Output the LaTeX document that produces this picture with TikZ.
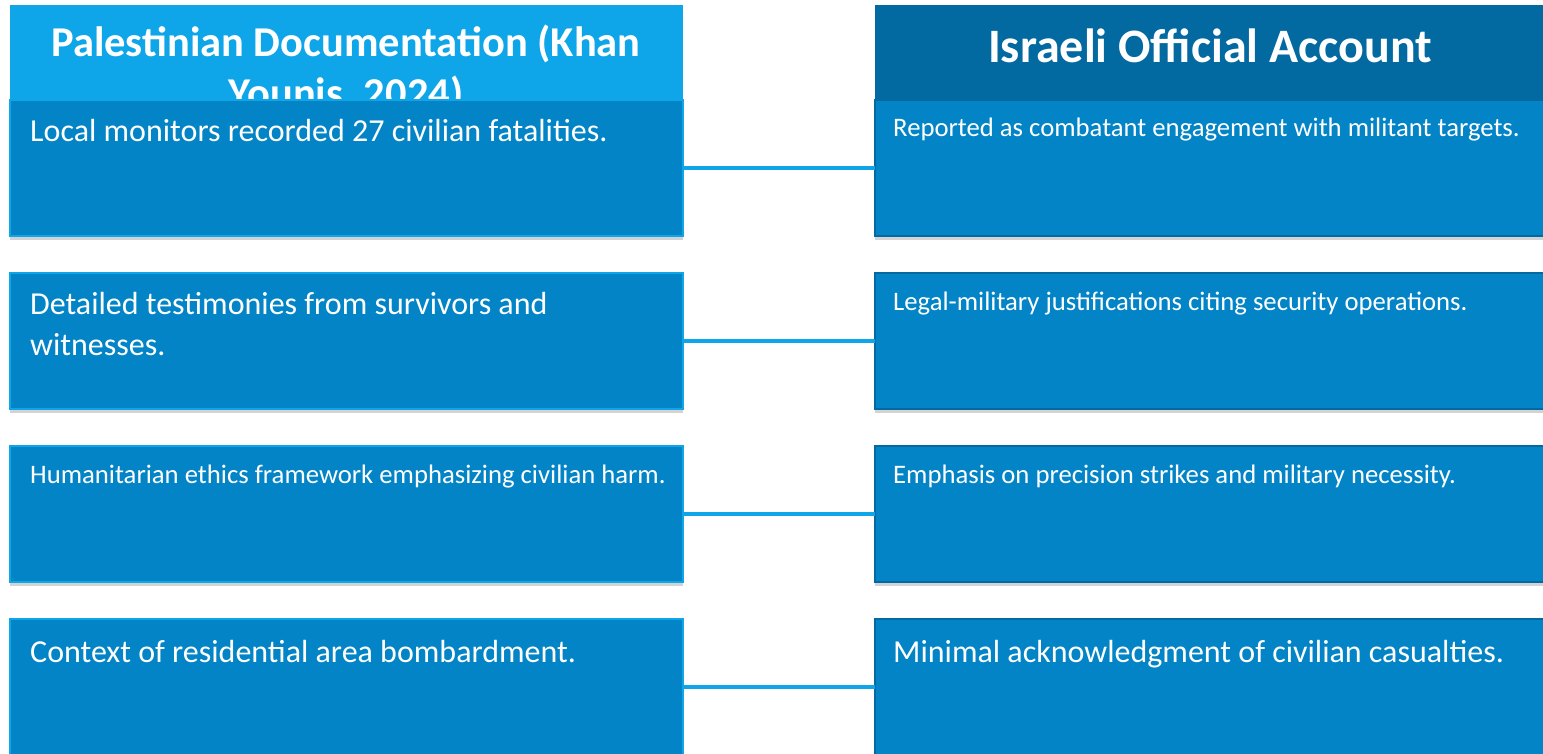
\documentclass[tikz,border=0pt]{standalone}
\usepackage{fontspec}
\setmainfont{Carlito}
\usepackage{xcolor}
\usetikzlibrary{positioning,shadows}
\definecolor{skylite}{HTML}{0EA5E9}
\definecolor{skymid}{HTML}{0284C7}
\definecolor{skydark}{HTML}{0369A1}

\begin{document}
\begin{tikzpicture}[x=1pt,y=-1pt,
    cardL/.style={draw=skylite,fill=skymid,line width=2pt,anchor=north west,
      minimum width=673pt,minimum height=136pt,inner sep=0pt,outer sep=0pt,
      drop shadow={shadow xshift=0pt,shadow yshift=-4pt,opacity=0.35}},
    cardR/.style={cardL,draw=skydark,minimum width=672pt},
    headL/.style={fill=skylite,anchor=north west,minimum width=673pt,
      minimum height=100pt,inner sep=0pt,outer sep=0pt,
      drop shadow={shadow xshift=0pt,shadow yshift=-4pt,opacity=0.35}},
    headR/.style={headL,fill=skydark,minimum width=672pt},
    big/.style={text=white,anchor=base west,inner sep=0pt,align=left,
      font=\fontsize{32}{40}\selectfont},
    small/.style={big,font=\fontsize{26.7}{34}\selectfont},
    link/.style={draw=skylite,line width=4pt}]
    \useasboundingbox (0,0) rectangle (1543,754);
    % HEADERS
    \node[headL] (hL) at (10,5) {};
    \node[headR] (hR) at (875,5) {};
    % (two-line node: base sits on its last line)
    \node[text=white,font=\bfseries\fontsize{42.5}{51}\selectfont,align=center,
      anchor=base] (tL) at (346,108) {Palestinian Documentation (Khan\\Younis, 2024)};
    \node[text=white,font=\bfseries\fontsize{48}{52}\selectfont,anchor=base] (tR) at (1210,63) {Israeli Official Account};
    % LEFT CARDS
    \node[cardL] (l1) at (10,100) {};
    \node[cardL] (l2) at (10,273) {};
    \node[cardL] (l3) at (10,446) {};
    \node[cardL] (l4) at (10,619) {};
    % RIGHT CARDS
    \node[cardR] (r1) at (875,100) {};
    \node[cardR] (r2) at (875,273) {};
    \node[cardR] (r3) at (875,446) {};
    \node[cardR] (r4) at (875,619) {};
    % TEXTS
    \node[big] (xl1) at (30,142) {Local monitors recorded 27 civilian fatalities.};
    \node[big] (xl2) at (30,355) {Detailed testimonies from survivors and\\witnesses.};
    \node[small] (xl3) at (30,483) {Humanitarian ethics framework emphasizing civilian harm.};
    \node[big] (xl4) at (30,662) {Context of residential area bombardment.};
    \node[small] (xr1) at (893,137) {Reported as combatant engagement with militant targets.};
    \node[small] (xr2) at (893,310) {Legal-military justifications citing security operations.};
    \node[small] (xr3) at (893,483) {Emphasis on precision strikes and military necessity.};
    \node[big] (xr4) at (893,662) {Minimal acknowledgment of civilian casualties.};
    % LINKS
    \draw[link] (l1.east) -- (r1.west);
    \draw[link] (l2.east) -- (r2.west);
    \draw[link] (l3.east) -- (r3.west);
    \draw[link] (l4.east) -- (r4.west);
\end{tikzpicture}
\end{document}
